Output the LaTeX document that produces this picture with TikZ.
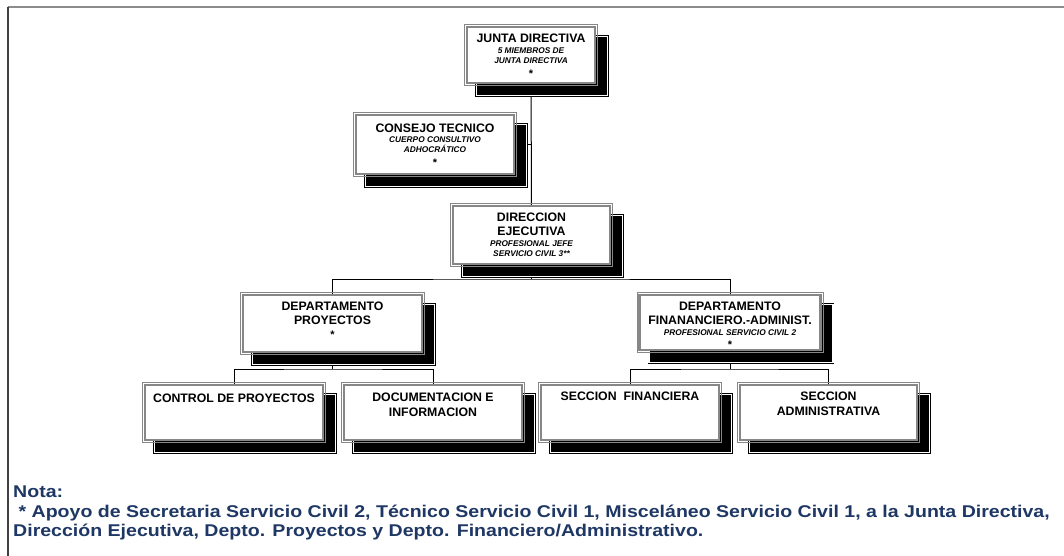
\documentclass[tikz,border=0pt]{standalone}
\usepackage{fontspec}
\setmainfont{Liberation Sans}
\usetikzlibrary{backgrounds}
\definecolor{notecol}{RGB}{30,55,100}
\definecolor{facegray}{RGB}{135,135,135}
\tikzset{
  orgface/.style={rectangle, draw=facegray, line width=2.4pt, fill=white, outer sep=0pt, inner sep=0pt},
  thinface/.style={draw=facegray, line width=0.8pt},
  shadowbox/.style={draw=black, line width=0.7pt, double=white, double distance=1.5pt, fill=black},
  conn/.style={draw=black, line width=1pt},
  ttl/.style={anchor=base, font=\bfseries\fontsize{12.3}{12.3}\selectfont, inner sep=0pt},
  sub/.style={anchor=base, font=\bfseries\itshape\fontsize{8.3}{8.3}\selectfont, inner sep=0pt},
  starlbl/.style={anchor=base, font=\bfseries\fontsize{11}{11}\selectfont, inner sep=0pt},
  notetxt/.style={anchor=base west, font=\bfseries\fontsize{17}{17}\selectfont, text=notecol, inner sep=0pt},
  frameline/.style={line width=1.6pt}
}
\newcommand{\notescale}[1]{\scalebox{1.15}[1]{#1}}
% name, cx, cy, w, h
\newcommand{\orgbox}[5]{%
  \draw[shadowbox] ({#2-#4/2+12.5},{#3-#5/2+12.5}) rectangle ({#2+#4/2+9.5},{#3+#5/2+9.5});
  \node[orgface, minimum width={(#4-6.2)*1pt}, minimum height={(#5-6.2)*1pt}] (#1) at (#2,#3) {};
  \draw[thinface] ({#2-#4/2+0.4},{#3-#5/2+0.4}) rectangle ({#2+#4/2-0.4},{#3+#5/2-0.4});
}
\begin{document}
\begin{tikzpicture}[x=1pt,y=-1pt]
\useasboundingbox (0,0) rectangle (1064,556);
\draw[frameline, draw=gray!90] (8,7) -- (1064,7);
\draw[frameline, draw=black!75] (8,7) -- (8,556);

\orgbox{jd}{531}{55}{134}{62}
\orgbox{ct}{435}{144.5}{164}{65}
\orgbox{de}{531.5}{235}{163}{64}
\orgbox{dp}{332.5}{323.5}{185}{63}
\orgbox{df}{730}{322.5}{187}{61}
\orgbox{cp}{234}{412.5}{184}{61}
\orgbox{di}{433}{412.5}{184}{61}
\orgbox{sf}{630}{412.5}{184}{61}
\orgbox{sa}{828.5}{412.5}{183}{61}

\coordinate (bus1) at (531.5,279);
\coordinate (bus2) at (332.5,369);
\coordinate (bus3) at (730,369);

\begin{scope}[on background layer]
  \fill[white] (0,0) rectangle (1064,556);
  \draw[conn] (jd.center) -- (de.center);
  \draw[conn] (ct.center) -- (ct.center -| jd.center);
  \draw[conn] (de.center) -- (bus1);
  \draw[conn] (dp.center) |- (bus1) -| (df.center);
  \draw[conn] (dp.center) -- (bus2);
  \draw[conn] (cp.center) |- (bus2) -| (di.center);
  \draw[conn] (df.center) -- (bus3);
  \draw[conn] (sf.center) |- (bus3) -| (sa.center);
\end{scope}

% texts
\node[ttl] (jdt) at (531,42.5) {JUNTA DIRECTIVA};
\node[sub] (jds1) at (531,53.5) {5 MIEMBROS DE};
\node[sub] (jds2) at (531,63.5) {JUNTA DIRECTIVA};
\node[starlbl] (jds3) at (531,78) {*};

\node[ttl] (ctt) at (435,132.5) {CONSEJO TECNICO};
\node[sub] (cts1) at (435,142.5) {CUERPO CONSULTIVO};
\node[sub] (cts2) at (435,152.5) {ADHOCRÁTICO};
\node[starlbl] (cts3) at (435,167) {*};

\node[ttl] (det1) at (531.5,221.5) {DIRECCION};
\node[ttl] (det2) at (531.5,235) {EJECUTIVA};
\node[sub] (des1) at (531.5,246) {PROFESIONAL JEFE};
\node[sub] (des2) at (531.5,256.5) {SERVICIO CIVIL 3**};

\node[ttl] (dpt1) at (332.5,310) {DEPARTAMENTO};
\node[ttl] (dpt2) at (332.5,324.5) {PROYECTOS};
\node[starlbl] (dpt3) at (332.5,338) {*};

\node[ttl] (dft1) at (730,310) {DEPARTAMENTO};
\node[ttl] (dft2) at (730,324) {FINANANCIERO.-ADMINIST.};
\node[sub] (dfs1) at (730,335) {PROFESIONAL SERVICIO CIVIL 2};
\node[starlbl] (dfs2) at (730,348) {*};

\node[ttl] (cpt) at (234,402) {CONTROL DE PROYECTOS};
\node[ttl] (dit1) at (433,401.5) {DOCUMENTACION E};
\node[ttl] (dit2) at (433,416) {INFORMACION};
\node[ttl] (sft) at (630,400.5) {SECCION\ \ FINANCIERA};
\node[ttl] (sat1) at (828.5,400.5) {SECCION};
\node[ttl] (sat2) at (828.5,415) {ADMINISTRATIVA};

\node[notetxt] (n1) at (13,497) {\notescale{Nota:}};
\node[notetxt] (n2) at (13,517) {\notescale{\ * Apoyo de Secretaria Servicio Civil 2, Técnico Servicio Civil 1, Misceláneo Servicio Civil 1, a la Junta Directiva,}};
\node[notetxt] (n3) at (13,536) {\notescale{Dirección Ejecutiva, Depto. Proyectos y Depto. Financiero/Administrativo.}};
\end{tikzpicture}
\end{document}
